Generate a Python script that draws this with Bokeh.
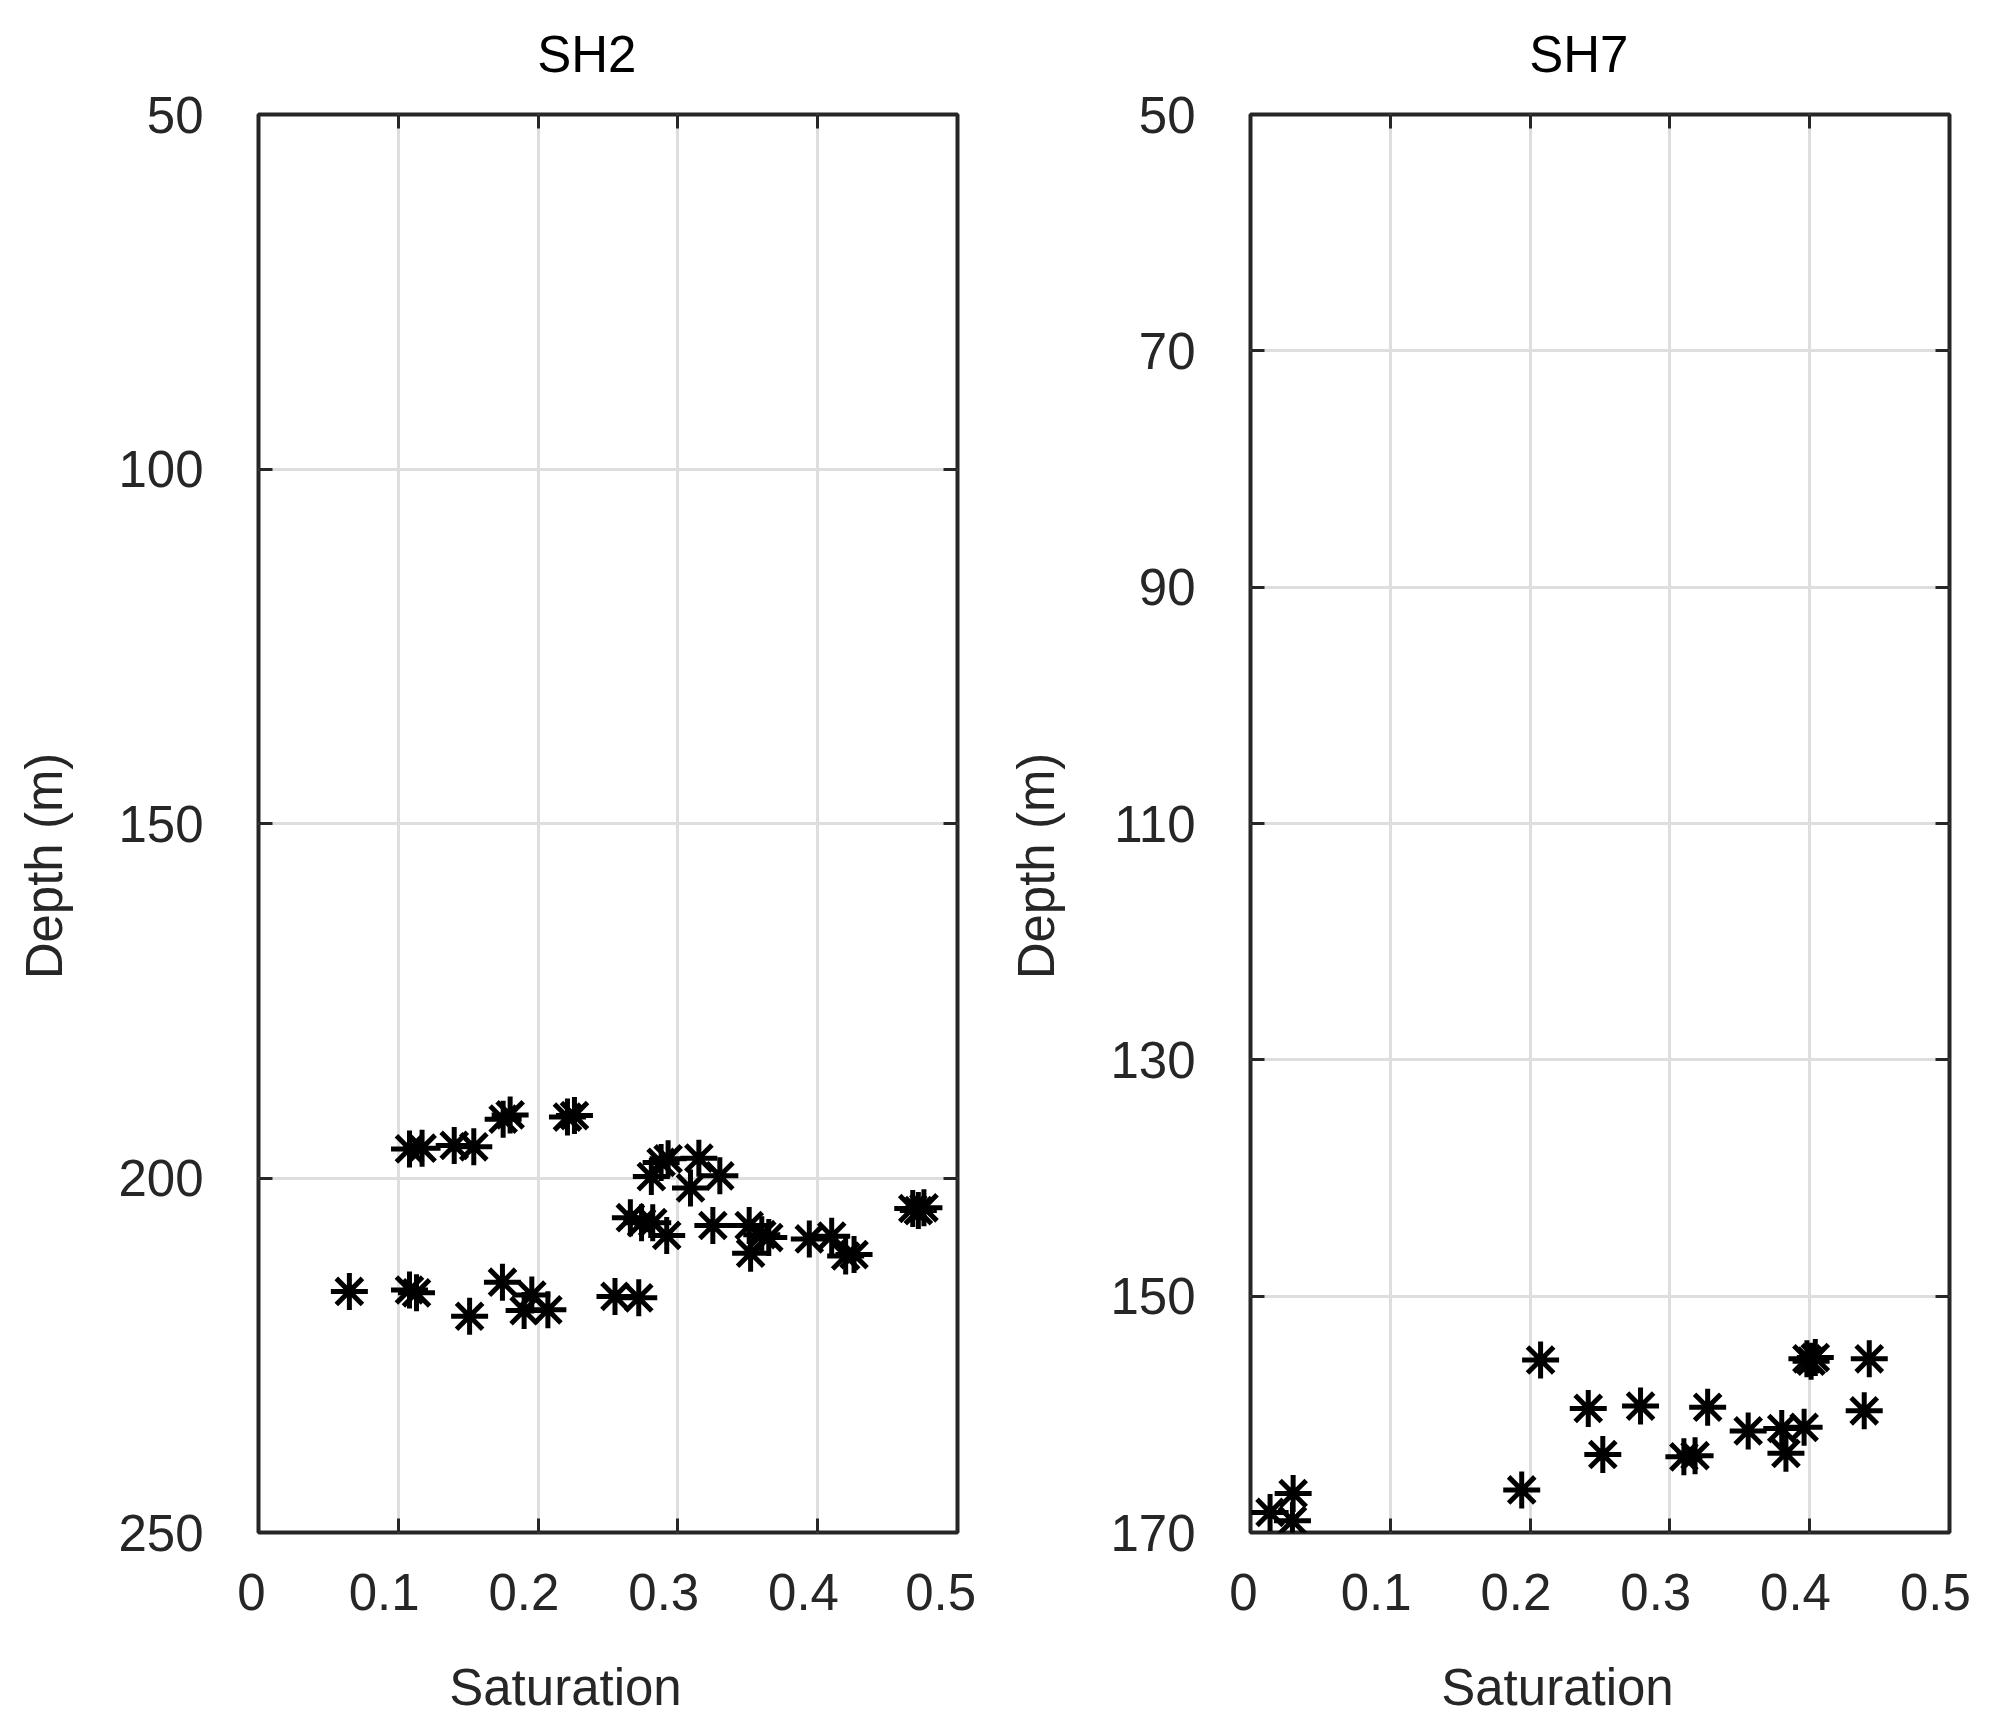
from bokeh.plotting import figure
from bokeh.layouts import row
from bokeh.models import Range1d, LinearAxis, FixedTicker
from bokeh.embed import file_html
from bokeh.resources import INLINE

# ---------------- data ----------------
sh2_saturation = [0.108, 0.117, 0.140, 0.154, 0.175, 0.180, 0.221, 0.226,
                  0.281, 0.288, 0.293, 0.315, 0.330, 0.309,
                  0.266, 0.274, 0.282, 0.292, 0.325, 0.351, 0.360, 0.365,
                  0.352, 0.394, 0.410, 0.420, 0.426, 0.468, 0.472, 0.476,
                  0.065, 0.108, 0.113, 0.1745, 0.1955, 0.151, 0.190, 0.207,
                  0.255, 0.272]
sh2_depth = [195.9, 195.8, 195.4, 195.6, 191.7, 191.1, 191.4, 191.2,
             199.8, 197.8, 197.3, 197.2, 199.7, 201.4,
             205.6, 206.3, 206.3, 208.1, 206.7, 206.7, 208.0, 208.4,
             210.6, 208.6, 208.2, 211.0, 210.8, 204.3, 204.6, 204.2,
             216.0, 215.8, 216.2, 214.7, 216.5, 219.5, 218.7, 218.6,
             216.7, 216.9]

sh7_saturation = [0.2075, 0.398, 0.401, 0.404, 0.4426,
                  0.2416, 0.279, 0.327, 0.439,
                  0.356, 0.380, 0.396,
                  0.252, 0.310, 0.318, 0.383,
                  0.194, 0.0305, 0.014, 0.030]
sh7_depth = [155.4, 155.3, 155.5, 155.2, 155.3,
             159.5, 159.3, 159.4, 159.7,
             161.4, 161.2, 161.1,
             163.4, 163.6, 163.5, 163.3,
             166.4, 166.7, 168.3, 169.0]

x_ticks = [0, 0.1, 0.2, 0.3, 0.4, 0.5]
x_tick_labels = ["0", "0.1", "0.2", "0.3", "0.4", "0.5"]
sh2_depth_ticks = [50, 100, 150, 200, 250]
sh7_depth_ticks = [50, 70, 90, 110, 130, 150, 170]

titles = ["SH2", "SH7"]
x_label = "Saturation"
y_label = "Depth (m)"

# ---------------- style ----------------
FONT = "Liberation Sans"
INK = "#262626"
GRID = "#dedede"
NBSP = "\u00a0"


def style_axis(ax, ticks, show_labels, overrides=None):
    ax.ticker = FixedTicker(ticks=ticks)
    ax.major_tick_in = 14
    ax.major_tick_out = 0
    ax.minor_tick_in = 0
    ax.minor_tick_out = 0
    ax.major_tick_line_color = INK
    ax.major_tick_line_width = 3
    ax.axis_line_color = None
    ax.major_label_text_font = FONT
    ax.axis_label_text_font = FONT
    ax.axis_label_text_font_style = "normal"
    ax.axis_label_text_font_size = "51px"
    ax.axis_label_text_color = INK
    if show_labels:
        ax.major_label_text_font_size = "51px"
        ax.major_label_text_color = INK
    else:
        ax.major_label_text_font_size = "1px"
        ax.major_label_text_color = None
        ax.major_label_standoff = 0
    if overrides:
        ax.major_label_overrides = overrides


def make_panel(title, sat, depth, y_ticks, border_left, border_right):
    y_top, y_bottom = y_ticks[0], y_ticks[-1]
    p = figure(frame_width=699, frame_height=1418,
               x_range=Range1d(0, 0.5), y_range=Range1d(y_bottom, y_top),
               output_backend="svg", toolbar_location=None,
               min_border_left=border_left, min_border_right=border_right,
               min_border_top=114, min_border_bottom=195)
    p.background_fill_color = "white"
    p.border_fill_color = "white"
    p.outline_line_color = INK
    p.outline_line_width = 4

    # MATLAB draws its tick labels a little left of the tick; pad on the right
    overrides = {t: lab + NBSP * len(lab.replace(".", "")) for t, lab in zip(x_ticks, x_tick_labels)}
    xb = p.xaxis[0]
    style_axis(xb, x_ticks, True, overrides)
    xb.major_label_standoff = 31
    xb.axis_label = x_label + NBSP * 6
    xb.axis_label_standoff = 35

    yl = p.yaxis[0]
    style_axis(yl, y_ticks, True)
    yl.major_label_standoff = 55
    yl.axis_label = y_label + NBSP * 6
    yl.axis_label_standoff = 42

    top = LinearAxis()
    style_axis(top, x_ticks, False)
    top.axis_label = title + NBSP * 3
    top.axis_label_text_color = "black"
    top.axis_label_standoff = 32
    p.add_layout(top, "above")

    right = LinearAxis()
    style_axis(right, y_ticks, False)
    p.add_layout(right, "right")

    p.xgrid.ticker = FixedTicker(ticks=x_ticks)
    p.ygrid.ticker = FixedTicker(ticks=y_ticks)
    for g in (p.xgrid, p.ygrid):
        g.grid_line_color = GRID
        g.grid_line_width = 3

    p.scatter(sat, depth, marker="asterisk", size=37,
              line_color="black", line_width=5)
    return p


p1 = make_panel(titles[0], sh2_saturation, sh2_depth, sh2_depth_ticks, 258, 47)
p2 = make_panel(titles[1], sh7_saturation, sh7_depth, sh7_depth_ticks, 246, 50)

layout = row(p1, p2)
open("out.html", "w").write(file_html(layout, INLINE))
